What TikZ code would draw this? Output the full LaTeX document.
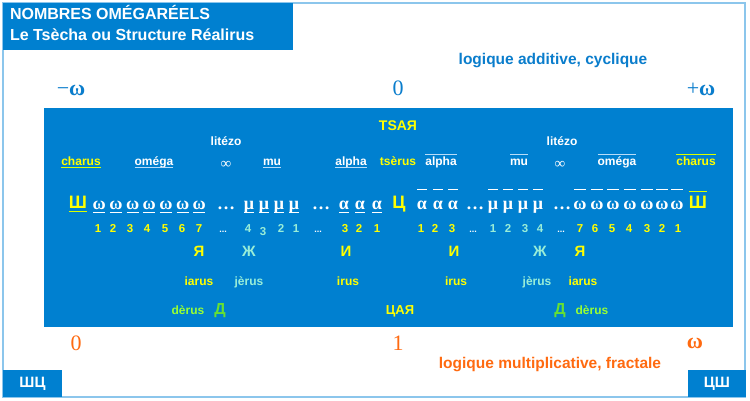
\documentclass[tikz,border=0pt]{standalone}
\usepackage{fontspec}
\setmainfont{Liberation Sans}
\newfontfamily\serif{Liberation Serif}
\newcommand\myfs[1]{\fontsize{#1}{#1}\selectfont}
\definecolor{mainblue}{HTML}{0080D0}
\definecolor{framec}{HTML}{8CC6EC}
\definecolor{ylw}{HTML}{FFFF00}
\definecolor{cyn}{HTML}{99EED8}
\definecolor{lime}{HTML}{99FF33}
\definecolor{dgreen}{HTML}{66E033}
\definecolor{org}{HTML}{FF6A10}
\definecolor{txtblue}{HTML}{0A7DCC}
\definecolor{ulc}{HTML}{B8DCF8}
\tikzset{
  every node/.style={inner sep=0pt, outer sep=0pt},
  ttl/.style={text=white, font=\bfseries\myfs{16}, anchor=base west},
  axb/.style={font=\serif\myfs{22}, anchor=base, text=txtblue},
  axo/.style={font=\serif\myfs{22}, anchor=base, text=org},
  logic/.style={font=\bfseries\myfs{15.5}, anchor=base},
  nm/.style={font=\bfseries\myfs{12}, anchor=base, text=white},
  sym/.style={font=\serif\bfseries\myfs{18}, anchor=base, text=white},
  cyr/.style={font=\bfseries\myfs{18}, anchor=base, text=ylw},
  num/.style={font=\bfseries\myfs{11.5}, anchor=base},
  big/.style={font=\bfseries\myfs{15}, anchor=base},
  dotsb/.style={font=\serif\bfseries\myfs{18}, text=white, anchor=base},
  sdots/.style={font=\bfseries\myfs{9}, text=white, anchor=base},
  ulw/.style={draw=white, line width=1pt},
  ulname/.style={draw=ulc, line width=1pt},
  uly/.style={draw=ylw!85!green, line width=1pt}
}
\begin{document}
\begin{tikzpicture}[x=1pt,y=-1pt]
\useasboundingbox (0,0) rectangle (750,401);
\fill[white] (0,0) rectangle (750,401);
\draw[framec, line width=1.2pt] (3,3) rectangle (745,397);
\fill[mainblue] (3,3) rectangle (293,50);
\fill[mainblue] (44,108) rectangle (733,327);
\node[ttl] (t1) at (10,20) {NOMBRES OMÉGARÉELS};
\node[ttl] (t2) at (10,41) {Le Tsècha ou Structure Réalirus};
% axes labels
\node[logic, text=txtblue] (la) at (553,65) {logique additive, cyclique};
\node[axb] (mo) at (71,96) {−\textbf{ω}};
\node[axb] (z0) at (398,96) {0};
\node[axb] (po) at (701,96) {+\textbf{ω}};
\node[axo] (b0) at (76,350) {0};
\node[axo] (b1) at (398,350) {1};
\node[axo] (bw) at (695,348) {\textbf{ω}};
\node[logic, text=org] (lm) at (550,368) {logique multiplicative, fractale};
% corner boxes
\fill[mainblue] (3,370) rectangle (62,397);
\fill[mainblue] (688,370) rectangle (746,397);
\node[font=\bfseries\myfs{15}, text=white] (sc) at (32.5,384) {ШЦ};
\node[font=\bfseries\myfs{15}, text=white] (cs) at (717,384) {ЦШ};
% top labels in box
\node[big, text=ylw, font=\bfseries\myfs{14}] (tsar) at (398,131) {TSAЯ};
\node[nm] (litL) at (226,146) {litézo};
\node[nm] (litR) at (562,146) {litézo};
% names row
\node[nm, text=ylw] (chL) at (81,165) {charus};
\node[nm] (omL) at (154,165) {oméga};
\node[font=\serif\myfs{15}, text=white, anchor=base] (infL) at (226,168) {∞};
\node[nm] (muL) at (272,165) {mu};
\node[nm] (alL) at (351,165) {alpha};
\node[nm, text=ylw] (tse) at (398,165) {tsèrus};
\node[nm] (alR) at (441,165) {alpha};
\node[nm] (muR) at (519,165) {mu};
\node[font=\serif\myfs{15}, text=white, anchor=base] (infR) at (560,168) {∞};
\node[nm] (omR) at (617,165) {oméga};
\node[nm, text=ylw] (chR) at (696,165) {charus};
\draw[uly] (chL.west |- 0,168) -- (chL.east |- 0,168);
\foreach \n in {omL,muL,alL} \draw[ulname] (\n.west |- 0,168) -- (\n.east |- 0,168);
\foreach \n in {alR,muR,omR} \draw[ulname] (\n.west |- 0,155) -- (\n.east |- 0,155);
\draw[uly] (chR.west |- 0,155) -- (chR.east |- 0,155);
% symbols row
\node[cyr] (shL) at (78,208) {Ш};
\draw[uly] (shL.west |- 0,211) -- (shL.east |- 0,211);
\foreach \x [count=\i] in {99.3,116,132.7,149.3,166,182.7,199.3} {
  \node[sym] (wL\i) at (\x,210) {ω};
  \draw[ulw] ([xshift=0.5pt]wL\i.west |- 0,212) -- ([xshift=-0.5pt]wL\i.east |- 0,212);
}
\node[dotsb] (d1) at (226,210) {…};
\foreach \x [count=\i] in {249,264,279,294} {
  \node[sym] (mL\i) at (\x,210) {μ};
  \draw[ulw] ([xshift=0.5pt]mL\i.west |- 0,212) -- ([xshift=-0.5pt]mL\i.east |- 0,212);
}
\node[dotsb] (d2) at (321,210) {…};
\foreach \x [count=\i] in {344,360,377} {
  \node[sym] (aL\i) at (\x,210) {α};
  \draw[ulw] ([xshift=0.5pt]aL\i.west |- 0,212) -- ([xshift=-0.5pt]aL\i.east |- 0,212);
}
\node[cyr] (ts) at (399,208) {Ц};
\foreach \x [count=\i] in {422,438,453} {
  \node[sym] (aR\i) at (\x,210) {α};
  \draw[ulw] ([xshift=0.5pt]aR\i.west |- 0,190) -- ([xshift=-0.5pt]aR\i.east |- 0,190);
}
\node[dotsb] (d3) at (475,210) {…};
\foreach \x [count=\i] in {493,508,523,538} {
  \node[sym] (mR\i) at (\x,210) {μ};
  \draw[ulw] ([xshift=0.5pt]mR\i.west |- 0,190) -- ([xshift=-0.5pt]mR\i.east |- 0,190);
}
\node[dotsb] (d4) at (562,210) {…};
\foreach \x [count=\i] in {580,597,613,630,647,662,677} {
  \node[sym] (wR\i) at (\x,210) {ω};
  \draw[ulw] ([xshift=0.5pt]wR\i.west |- 0,190) -- ([xshift=-0.5pt]wR\i.east |- 0,190);
}
\node[cyr] (shR) at (698,208) {Ш};
\draw[uly] (shR.west |- 0,192) -- (shR.east |- 0,192);
% numbers row
\foreach \x/\t/\c/\y [count=\i] in {98/1/ylw/233,113/2/ylw/233,130/3/ylw/233,147/4/ylw/233,165/5/ylw/233,182/6/ylw/233,199/7/ylw/233,248/4/cyn/233,263/3/cyn/235,281/2/cyn/233,296/1/cyn/233,345/3/ylw/233,359/2/ylw/233,377/1/ylw/233,421/1/ylw/233,435/2/ylw/233,452/3/ylw/233,493/1/cyn/233,508/2/cyn/233,525/3/cyn/233,540/4/cyn/233,580/7/ylw/233,595/6/ylw/233,612/5/ylw/233,629/4/ylw/233,647/3/ylw/233,662/2/ylw/233,678/1/ylw/233} {
  \node[num, text=\c] (n\i) at (\x,\y) {\t};
}
\foreach \x [count=\i] in {223,318,473,561} \node[sdots] (sd\i) at (\x,232) {...};
% Cyrillic letters row
\node[big, text=ylw] (yaL) at (199,256) {Я};
\node[big, text=cyn] (zhL) at (249,256) {Ж};
\node[big, text=ylw] (iL) at (346,256) {И};
\node[big, text=ylw] (iR) at (454,256) {И};
\node[big, text=cyn] (zhR) at (540,256) {Ж};
\node[big, text=ylw] (yaR) at (580,256) {Я};
% words row
\node[nm, text=ylw] (iaL) at (199,285) {iarus};
\node[nm, text=cyn] (jeL) at (249,285) {jèrus};
\node[nm, text=ylw] (irL) at (348,285) {irus};
\node[nm, text=ylw] (irR) at (456,285) {irus};
\node[nm, text=cyn] (jeR) at (537,285) {jèrus};
\node[nm, text=ylw] (iaR) at (583,285) {iarus};
% bottom row
\node[nm, text=lime] (deL) at (188,314) {dèrus};
\node[big, text=dgreen, font=\bfseries\myfs{16}] (dL) at (220,314) {Д};
\node[nm, text=ylw, font=\bfseries\myfs{13}] (tsaya) at (400,314) {ЦАЯ};
\node[big, text=dgreen, font=\bfseries\myfs{16}] (dR) at (560,314) {Д};
\node[nm, text=lime] (deR) at (592,314) {dèrus};
\end{tikzpicture}
\end{document}
